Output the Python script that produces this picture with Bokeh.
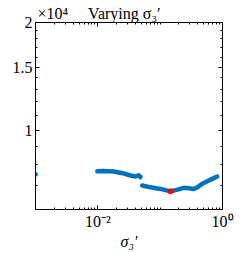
from bokeh.plotting import figure
from bokeh.models import Range1d, FixedTicker, LogAxis
from bokeh.embed import file_html
from bokeh.resources import INLINE

# data
seg1_x = [0.0098, 0.012, 0.018, 0.025, 0.0334, 0.040, 0.0454, 0.0484]
seg1_y = [7680, 7690, 7660, 7580, 7470, 7420, 7480, 7390]
seg2_x = [0.0515, 0.070, 0.101, 0.1465, 0.19, 0.239, 0.29, 0.347, 0.40, 0.472, 0.603, 0.70, 0.822]
seg2_y = [7000, 6920, 6850, 6745, 6820, 6900, 6880, 6850, 6930, 7080, 7230, 7320, 7420]
left_x = [0.001]
left_y = [7520]
best_x = [0.1465]
best_y = [6745]

x_major = [1e-2, 1.0]
x_labels = {1e-2: "10⁻²", 1.0: "10⁰"}
y_major = [10000, 15000, 20000]
y_labels = {10000: "1", 15000: "1.5", 20000: "2"}
exponent_text = "×10⁴"
title_text = "Varying σ₃′"

FONT = "Liberation Serif"
BLUE = "#0072BD"

p = figure(frame_width=187, frame_height=187, x_axis_type="log", y_axis_type="log",
           x_range=Range1d(1e-3, 1.0), y_range=Range1d(6000, 20000),
           output_backend="svg", toolbar_location=None,
           min_border_left=35, min_border_right=20,
           min_border_top=22, min_border_bottom=40,
           title=exponent_text + "\u00a0" * 5 + title_text)
p.title.align = "left"
p.title.offset = 2
p.title.standoff = 1
p.title.text_font = FONT
p.title.text_font_size = "16px"
p.title.text_font_style = "normal"
p.title.text_color = "black"

p.xgrid.visible = False
p.ygrid.visible = False
p.outline_line_color = "black"

xminor = [k * 10.0 ** e for e in (-3, -2, -1) for k in range(1, 10)]
yminor = list(range(6000, 20001, 1000))

def style(ax, ticker, labels, show):
    ax.ticker = ticker
    ax.major_tick_in = 4
    ax.major_tick_out = 0
    ax.minor_tick_in = 2
    ax.minor_tick_out = 0
    ax.axis_line_color = "black"
    ax.major_tick_line_color = "black"
    ax.minor_tick_line_color = "black"
    ax.major_label_text_font = FONT
    ax.major_label_text_color = "black"
    if show:
        ax.major_label_overrides = labels
        ax.major_label_text_font_size = "16px"
        ax.major_label_standoff = 3
    else:
        ax.major_label_text_font_size = "1px"
        ax.major_label_text_alpha = 0
        ax.major_label_standoff = 0

xt = FixedTicker(ticks=x_major, minor_ticks=xminor)
yt = FixedTicker(ticks=y_major, minor_ticks=yminor)
style(p.xaxis[0], xt, x_labels, True)
style(p.yaxis[0], yt, y_labels, True)
p.xaxis[0].axis_label = "σ₃′"
p.xaxis[0].axis_label_text_font = FONT
p.xaxis[0].axis_label_text_font_size = "16px"
p.xaxis[0].axis_label_text_font_style = "italic"
p.xaxis[0].axis_label_text_color = "black"
p.xaxis[0].axis_label_standoff = 0

top = LogAxis()
right = LogAxis()
style(top, xt, {}, False)
style(right, yt, {}, False)
p.add_layout(top, "above")
p.add_layout(right, "right")

p.line(seg1_x, seg1_y, line_color=BLUE, line_width=4.5, line_cap="round", line_join="round")
p.line(seg2_x, seg2_y, line_color=BLUE, line_width=4.5, line_cap="round", line_join="round")
p.scatter(left_x, left_y, size=4, color=BLUE)
p.scatter(best_x, best_y, size=5, color="red")

open("out.html", "w").write(file_html(p, INLINE))
